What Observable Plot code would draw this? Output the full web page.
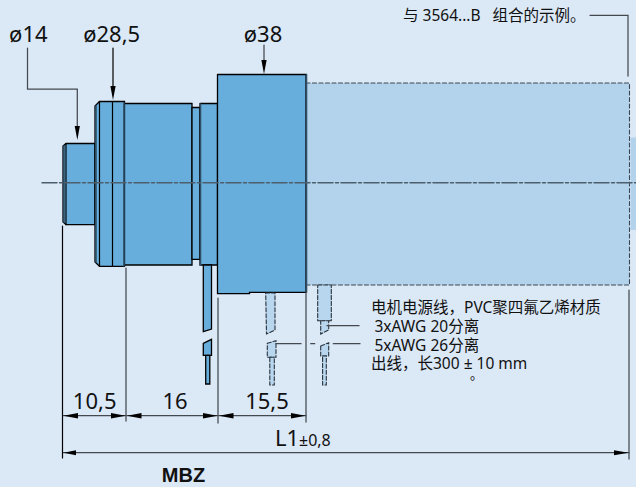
<!DOCTYPE html>
<html><head><meta charset="utf-8">
<script src="https://cdn.jsdelivr.net/npm/d3@7"></script>
<script src="https://cdn.jsdelivr.net/npm/@observablehq/plot@0.6"></script>
<style>html,body{margin:0;padding:0;background:#dbe8f6;overflow:hidden}svg{display:block}</style>
</head><body><div id="c"></div>
<script>
// Drawing outlines, in drawing units of the reference sheet
const motorBody = [[306,83],[629.5,83],[629.5,285],[306,285],[306,83]];
const motorNub = [[630.5,137.5],[636,137.5],[636,230],[630.5,230]];
const shaft = [[63,146],[66,143.5],[95,143.5],[95,224.7],[66,224.7],[63,222],[63,146]];
const flange = [[95,106],[99.5,101.5],[124.5,101.5],[124.5,266.3],[99.5,266.3],[95,262],[95,106]];
const barrel = [[124.5,103.5],[192,103.5],[192,265],[124.5,265],[124.5,103.5]];
const neck = [[192,107.5],[200,107.5],[200,259.3],[192,259.3],[192,107.5]];
const collar = [[200,103.5],[217.5,103.5],[217.5,265],[200,265],[200,103.5]];
const housing = [[217.5,74.5],[306,74.5],[306,292.3],[249.5,292.3],[249.5,293.7],[217.5,293.7],[217.5,74.5]];
const pinUpper = [[203.3,265],[211.5,265],[211.5,329],[203.3,331.7],[203.3,265]];
const pinLower = [[203.3,343.3],[211.5,339.3],[211.5,355.3],[203.3,355.3],[203.3,343.3]];
const pinTip = [[205.7,355.3],[209.8,355.3],[209.8,384],[205.7,384],[205.7,355.3]];
const wireA1 = [[265.7,293],[275,293],[275,330],[266.5,334],[265.7,293]];
const wireA2 = [[267.3,343.3],[276,340.7],[276,357.3],[267.3,357.3],[267.3,343.3]];
const wireA3 = [[269.8,357.3],[274.3,357.3],[274.3,385],[269.8,385],[269.8,357.3]];
const wireB1 = [[317.7,285],[331.3,285],[331.3,320.7],[317.7,320.7],[317.7,285]];
const wireB2 = [[320.7,320.7],[328.7,320.7],[328.7,330],[320.7,334],[320.7,320.7]];
const wireB3 = [[320.7,346],[328.7,342.7],[328.7,356],[320.7,356],[320.7,346]];
const wireB4 = [[322.6,356],[326.3,356],[326.3,385],[322.6,385],[322.6,356]];
const solidFills = [shaft, flange, barrel, neck, collar, housing, pinUpper, pinLower, pinTip];
const dashedFills = [wireA1, wireA2, wireA3, wireB1, wireB2, wireB3, wireB4];
const detailLines = [
  [[66,143.5],[66,224.7]], [[99.5,101.5],[99.5,266.3]], [[112.5,101.5],[112.5,266.3]]
];
const shadowLines = [
  [[306.5,74.5],[306.5,292.3]], [[96,106],[96,262]], [[124,103],[124,266]], [[64,146],[64,222]],
  [[200.5,104],[200.5,265]]
];
const centerLine = [[42,182.7],[636,182.7]];
const blackGuides = [
  [[62.5,226],[62.5,458]], [[113,48],[113,90]]
];
const greyGuides = [
  [[27.5,48],[27.5,89],[77.3,89],[77.3,128]], [[264,45],[264,62]],
  [[590,15.3],[628,15.3],[628,76]],
  [[126,268],[126,421]], [[218,298],[218,423]], [[306,292],[306,422]], [[629,290],[629,459]],
  [[327,325.7],[359,325.7]], [[276,343.7],[301,343.7]], [[310.7,343.7],[314.7,343.7]], [[333.3,343.7],[360,343.7]],
  [[63,415.7],[126,415.7]], [[127,415.7],[218,415.7]], [[219,415.7],[306,415.7]], [[63,452.7],[629,452.7]]
];
const arrows = [
  [[77.3,140],[74.7,126],[79.9,126]], [[113,100],[110.4,86],[115.6,86]], [[264,74],[261.4,60],[266.6,60]],
  [[63.5,415.7],[78,413],[78,418.4]], [[125.5,415.7],[111,413],[111,418.4]],
  [[127,415.7],[141.5,413],[141.5,418.4]], [[217.5,415.7],[203,413],[203,418.4]],
  [[219,415.7],[233.5,413],[233.5,418.4]], [[305.5,415.7],[291,413],[291,418.4]],
  [[63.5,452.7],[76,450.2],[76,455.2]], [[628.5,452.7],[614,450.2],[614,455.2]]
];
const dimLabels = ["ø14","ø28,5","ø38","10,5","16","15,5","L1"];
const dimX = [28.3,111.7,263,94.7,175,267,287];
const dimY = [42,42,42,409,409,409,446];
const noteLabels = ["与 3564...B   组合的示例。","电机电源线，PVC聚四氟乙烯材质","3xAWG 20分离","5xAWG 26分离","出线，长300 ± 10 mm"];
const noteX = [403,371,374.5,374.5,371];
const noteY = [21,313,332,350.5,368.5];

const rows = (a,b,c) => a.map((t,i)=>({t,x:b[i],y:c[i]}));
const px = d=>d[0], py = d=>d[1];
const shape = (pts,o) => Plot.line(pts,{x:px,y:py,strokeLinejoin:"miter",strokeMiterlimit:4,...o});
const cjk = '"Noto Sans","Noto Sans CJK SC",sans-serif';

const chart = Plot.plot({
  width:636, height:487, margin:0,
  x:{domain:[0,636],range:[-0.5,635.5],axis:null},
  y:{domain:[0,487],range:[-0.5,486.5],axis:null},
  style:{background:"transparent",fontFamily:cjk},
  marks:[
    shape(motorBody,{fill:"#b3d3ec",stroke:"#3c4650",strokeWidth:1.1,strokeDasharray:"4,2.5"}),
    shape(motorNub,{fill:"#b3d3ec",stroke:"none"}),
    ...solidFills.map(s=>shape(s,{fill:"#68aedc",stroke:"#000",strokeWidth:1.3})),
    ...dashedFills.map(s=>shape(s,{fill:"#b8d6ee",stroke:"#27323c",strokeWidth:1.1,strokeDasharray:"4,2"})),
    ...shadowLines.map(s=>shape(s,{stroke:"#2f5068",strokeWidth:1.6})),
    ...detailLines.map(s=>shape(s,{stroke:"#000",strokeWidth:1.2})),
    shape(centerLine,{stroke:"#4d5e6c",strokeWidth:1.5,strokeDasharray:"15,2.5,3,2.5"}),
    ...greyGuides.map(s=>shape(s,{stroke:"#44494f",strokeWidth:1.25})),
    ...blackGuides.map(s=>shape(s,{stroke:"#000",strokeWidth:1.2})),
    ...arrows.map(s=>shape([...s,s[0]],{fill:"#000",stroke:"none"})),
    Plot.text(rows(dimLabels,dimX,dimY),{x:"x",y:"y",text:"t",fontSize:22,fill:"#111",textAnchor:"middle",lineAnchor:"bottom",dy:0}),
    Plot.text(rows(["±0,8"],[299],[446]),{x:"x",y:"y",text:"t",fontSize:16,fill:"#111",textAnchor:"start",lineAnchor:"bottom",dy:0}),
    Plot.text(rows(noteLabels,noteX,noteY),{x:"x",y:"y",text:"t",fontSize:15.5,fill:"#111",textAnchor:"start",lineAnchor:"bottom",dy:0}),
    Plot.text(rows(["。"],[470],[379]),{x:"x",y:"y",text:"t",fontSize:13,fill:"#111",textAnchor:"start",lineAnchor:"bottom"}),
    Plot.text(rows(["MBZ"],[183.5],[482.3]),{x:"x",y:"y",text:"t",fontSize:20,fontWeight:700,fontFamily:'"Liberation Sans",sans-serif',fill:"#111",textAnchor:"middle",lineAnchor:"bottom",dy:0})
  ]
});
document.getElementById("c").append(chart);
</script></body></html>
